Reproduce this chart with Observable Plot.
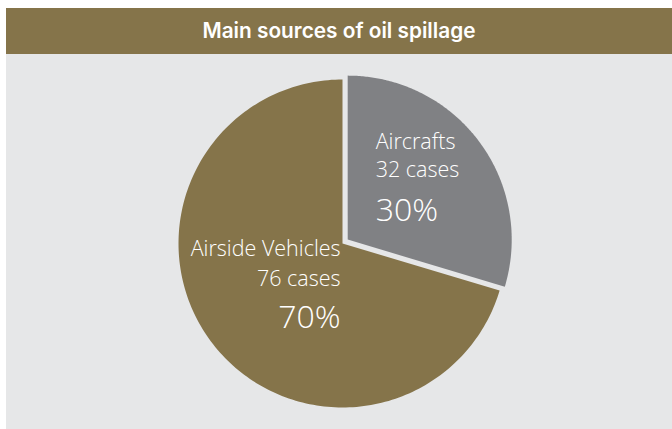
<!DOCTYPE html>
<html>
<head>
<meta charset="utf-8">
<script src="https://cdn.jsdelivr.net/npm/d3@7"></script>
<script src="https://cdn.jsdelivr.net/npm/@observablehq/plot@0.6"></script>
<style>
  html, body { margin: 0; padding: 0; background: #ffffff; }
  #wrap { position: absolute; left: 6px; top: 8px; width: 666px; }
  #title { height: 46px; line-height: 46px; background: #85744a; color: #ffffff;
           font-family: Inter, Roboto, sans-serif; font-weight: 600; font-size: 20.8px;
           text-align: center; }
  #chart { background: #e6e7e8; height: 375px; }
  #chart svg { display: block; }
</style>
</head>
<body>
<div id="wrap">
  <div id="title">Main sources of oil spillage</div>
  <div id="chart"></div>
</div>
<script>
// ---- data ----
const categories = ["Aircrafts", "Airside Vehicles"];
const cases = [32, 76];
const colors = ["#808184", "#85744a"];
const explode = [1, 0]; // which slice is pulled out

// ---- geometry ----
const W = 666, H = 375, CX = 336, CY = 189, R = 164, EXPLODE_PX = 6.5;
const total = d3.sum(cases);
const rows = categories.map((name, i) => ({name, value: cases[i], color: colors[i], explode: explode[i]}));
const arcs = d3.pie().value(d => d.value).sort(null)(rows);

const ex = EXPLODE_PX / R;
const polys = [];
const labels = [];
arcs.forEach(a => {
  const mid = (a.startAngle + a.endAngle) / 2;
  const ox = a.data.explode * ex * Math.sin(mid);
  const oy = a.data.explode * ex * Math.cos(mid);
  polys.push({name: a.data.name, color: a.data.color, x: ox, y: oy});
  const n = 200;
  for (let k = 0; k <= n; k++) {
    const t = a.startAngle + (a.endAngle - a.startAngle) * k / n;
    polys.push({name: a.data.name, color: a.data.color, x: ox + Math.sin(t), y: oy + Math.cos(t)});
  }
  labels.push({
    name: a.data.name,
    casesText: `${a.data.value} cases`,
    pct: `${Math.round(a.data.value / total * 100)}%`,
    x: ox + 0.6 * Math.sin(mid),
    y: oy + 0.6 * Math.cos(mid)
  });
});

// label styling per slice (anchor + pixel offsets of the three lines)
const labelStyle = {
  "Aircrafts": {anchor: "start", dx: -51, dys: [-32, -4, 40]},
  "Airside Vehicles": {anchor: "end", dx: 77, dys: [-46, -16, 26]}
};

const font = "'Open Sans', Lato, sans-serif";
const textMarks = labels.flatMap(l => {
  const s = labelStyle[l.name];
  const common = {x: "x", y: "y", fill: "#ffffff", textAnchor: s.anchor, lineAnchor: "bottom",
                  dx: s.dx, fontFamily: font, fontWeight: 300};
  return [
    Plot.text([l], {...common, text: "name", dy: s.dys[0], fontSize: 21.5}),
    Plot.text([l], {...common, text: "casesText", dy: s.dys[1], fontSize: 21.5}),
    Plot.text([l], {...common, text: "pct", dy: s.dys[2], fontSize: 32})
  ];
});

const chart = Plot.plot({
  width: W,
  height: H,
  margin: 0,
  style: {background: "transparent", overflow: "visible"},
  x: {domain: [-CX / R, (W - CX) / R], axis: null},
  y: {domain: [-(H - CY) / R, CY / R], axis: null},
  marks: [
    Plot.line(polys, {x: "x", y: "y", z: "name", fill: "color", stroke: null, curve: "linear-closed"}),
    ...textMarks
  ]
});
document.getElementById("chart").appendChild(chart);
</script>
</body>
</html>
